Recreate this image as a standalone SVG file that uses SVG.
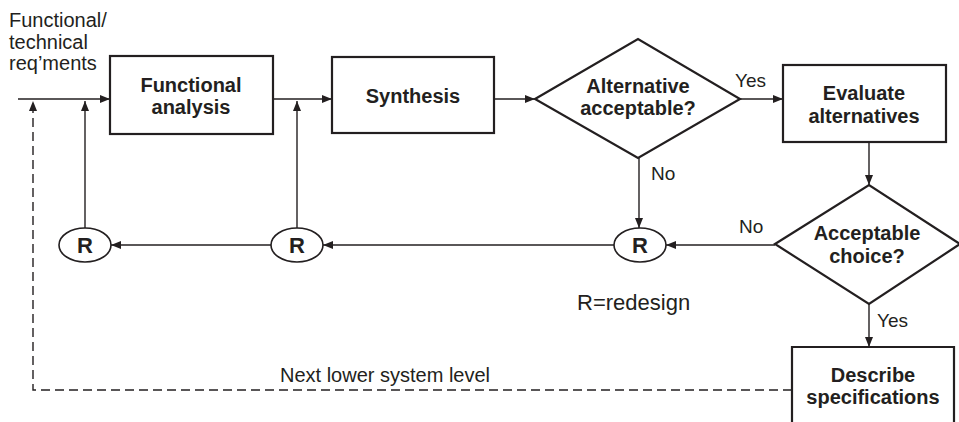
<svg xmlns="http://www.w3.org/2000/svg" width="959" height="422" viewBox="0 0 959 422">
<style>
text{font-family:"Liberation Sans",Arial,sans-serif;fill:#231f20}
.b{font-weight:bold;font-size:20px;text-anchor:middle}
.r{font-size:19px}
.t{font-size:20px}
.shape{fill:#fff;stroke:#231f20;stroke-width:2.2}
.c{fill:none;stroke:#231f20;stroke-width:1.4}
.d{fill:none;stroke:#231f20;stroke-width:1.4;stroke-dasharray:9,5}
</style>
<defs>
<marker id="ah" viewBox="0 0 10 8" refX="10" refY="4" markerWidth="10" markerHeight="8" markerUnits="userSpaceOnUse" orient="auto">
<path d="M0,0 L10,4 L0,8 Z" fill="#231f20"/>
</marker>
</defs>
<g id="connectors">
<line class="c" x1="18" y1="99" x2="110" y2="99" marker-end="url(#ah)"/>
<line class="c" x1="273" y1="99" x2="332" y2="99" marker-end="url(#ah)"/>
<line class="c" x1="494" y1="99" x2="535" y2="99" marker-end="url(#ah)"/>
<line class="c" x1="740" y1="99" x2="783" y2="99" marker-end="url(#ah)"/>
<line class="c" x1="869" y1="142" x2="869" y2="185" marker-end="url(#ah)"/>
<line class="c" x1="869" y1="304" x2="869" y2="347" marker-end="url(#ah)"/>
<line class="c" x1="775" y1="245" x2="666" y2="245" marker-end="url(#ah)"/>
<line class="c" x1="639" y1="158" x2="639" y2="228" marker-end="url(#ah)"/>
<line class="c" x1="614" y1="245" x2="323" y2="245" marker-end="url(#ah)"/>
<line class="c" x1="271" y1="245" x2="111" y2="245" marker-end="url(#ah)"/>
<line class="c" x1="85" y1="228" x2="85" y2="101" marker-end="url(#ah)"/>
<line class="c" x1="297" y1="228" x2="297" y2="101" marker-end="url(#ah)"/>
<polyline class="d" points="792,390 33,390 33,101" marker-end="url(#ah)"/>
<text class="t" x="9" y="27">Functional/</text>
<text class="t" x="9" y="49">technical</text>
<text class="t" x="9" y="70">req’ments</text>
<text class="r" x="735" y="87">Yes</text>
<text class="r" x="651" y="180">No</text>
<text class="r" x="739" y="233">No</text>
<text class="r" x="877" y="327">Yes</text>
<text class="t" x="280" y="382">Next lower system level</text>
<text x="577" y="310" style="font-size:22px">R=redesign</text>
</g>
<g id="functional-analysis">
<rect class="shape" x="110" y="56" width="163" height="78"/>
<text class="b" x="191" y="92">Functional</text>
<text class="b" x="191" y="114">analysis</text>
</g>
<g id="synthesis">
<rect class="shape" x="332" y="57" width="162" height="76"/>
<text class="b" x="413" y="103">Synthesis</text>
</g>
<g id="alternative-acceptable">
<polygon class="shape" points="535,99 638,39 740,99 638,158"/>
<text class="b" x="638" y="93">Alternative</text>
<text class="b" x="638" y="115">acceptable?</text>
</g>
<g id="evaluate-alternatives">
<rect class="shape" x="783" y="65" width="163" height="77"/>
<text class="b" x="864" y="100">Evaluate</text>
<text class="b" x="864" y="123">alternatives</text>
</g>
<g id="acceptable-choice">
<polygon class="shape" points="775,244 869,185 960,244 869,304"/>
<text class="b" x="867" y="240">Acceptable</text>
<text class="b" x="867" y="263">choice?</text>
</g>
<g id="describe-specifications">
<path class="shape" d="M792,424 V347 H954 V424"/>
<text class="b" x="873" y="382">Describe</text>
<text class="b" x="873" y="404">specifications</text>
</g>
<g id="r1">
<ellipse class="shape" cx="85" cy="245" rx="26" ry="17" style="stroke-width:1.6"/>
<text class="b" x="85" y="253" style="font-size:22px">R</text>
</g>
<g id="r2">
<ellipse class="shape" cx="297" cy="245" rx="26" ry="17" style="stroke-width:1.6"/>
<text class="b" x="297" y="253" style="font-size:22px">R</text>
</g>
<g id="r3">
<ellipse class="shape" cx="640" cy="245" rx="26" ry="17" style="stroke-width:1.6"/>
<text class="b" x="640" y="253" style="font-size:22px">R</text>
</g>
</svg>
